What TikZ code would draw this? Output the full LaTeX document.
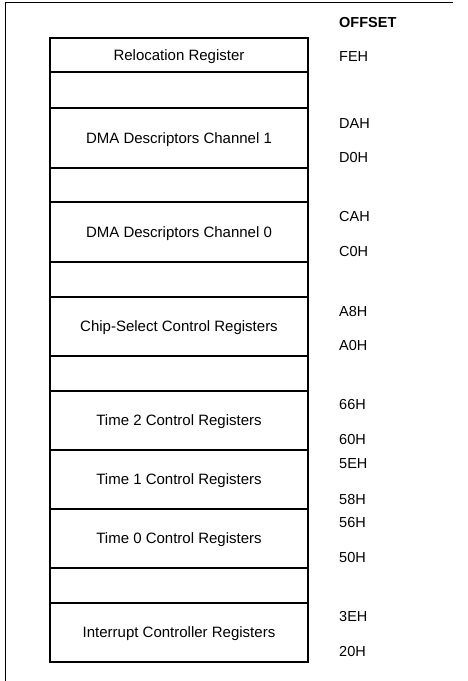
\documentclass[tikz,border=0pt]{standalone}
\usepackage{fontspec}
\setmainfont{Liberation Sans}
\begin{document}
\begin{tikzpicture}[x=1pt,y=-1pt,
  regbox/.style={draw, line width=1.1pt, minimum width=258pt, inner sep=0pt,
    text height=10.6pt, text depth=0pt, font=\fontsize{15}{18}\selectfont},
  offs/.style={anchor=west, inner sep=0pt, text height=10.4pt, text depth=0pt,
    font=\fontsize{14.5}{17}\selectfont}]
\useasboundingbox (0,0) rectangle (468,681);
% open frame
\coordinate (ftr) at (453,2);
\coordinate (ftl) at (5,2);
\coordinate (fbl) at (5,681);
\draw[line width=0.9pt] (ftr) -- (ftl) -- (fbl);
% register boxes
\node[regbox, minimum height=34pt] (b1) at (179,55) {Relocation Register};
\node[regbox, minimum height=36pt] (b2) at (179,90) {};
\node[regbox, minimum height=60pt] (b3) at (179,138) {DMA Descriptors Channel 1};
\node[regbox, minimum height=34pt] (b4) at (179,185) {};
\node[regbox, minimum height=60pt] (b5) at (179,232) {DMA Descriptors Channel 0};
\node[regbox, minimum height=35pt] (b6) at (179,279.5) {};
\node[regbox, minimum height=59pt] (b7) at (179,326.5) {Chip-Select Control Registers};
\node[regbox, minimum height=35pt] (b8) at (179,373.5) {};
\node[regbox, minimum height=59pt] (b9) at (179,420.5) {Time 2 Control Registers};
\node[regbox, minimum height=59pt] (b10) at (179,479.5) {Time 1 Control Registers};
\node[regbox, minimum height=59pt] (b11) at (179,538.5) {Time 0 Control Registers};
\node[regbox, minimum height=35pt] (b12) at (179,585.5) {};
\node[regbox, minimum height=59pt] (b13) at (179,632.5) {Interrupt Controller Registers};
% offsets
\node[offs, font=\fontsize{14.5}{17}\selectfont\bfseries] (hdr) at (339,22) {OFFSET};
\node[offs] (oFE) at (339,56) {FEH};
\node[offs] (oDA) at (339,123) {DAH};
\node[offs] (oD0) at (339,157) {D0H};
\node[offs] (oCA) at (339,216) {CAH};
\node[offs] (oC0) at (339,251) {C0H};
\node[offs] (oA8) at (339,311) {A8H};
\node[offs] (oA0) at (339,345) {A0H};
\node[offs] (o66) at (339,404) {66H};
\node[offs] (o60) at (339,439) {60H};
\node[offs] (o5E) at (339,463) {5EH};
\node[offs] (o58) at (339,499) {58H};
\node[offs] (o56) at (339,522) {56H};
\node[offs] (o50) at (339,557) {50H};
\node[offs] (o3E) at (339,616) {3EH};
\node[offs] (o20) at (339,651) {20H};
\end{tikzpicture}
\end{document}
